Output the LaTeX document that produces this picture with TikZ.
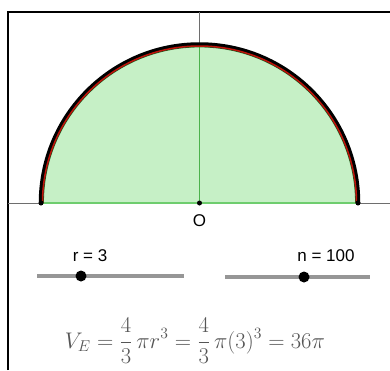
\documentclass[tikz,border=0pt]{standalone}
\usepackage{fontspec}
\newfontfamily\labfont{Liberation Sans}
\definecolor{fillg}{RGB}{198,240,198}
\definecolor{lineg}{RGB}{110,205,110}
\definecolor{slidergray}{RGB}{150,150,150}
\definecolor{axisgray}{RGB}{110,110,110}
\definecolor{formulagray}{RGB}{85,85,85}
\definecolor{arcred}{RGB}{190,20,10}
\definecolor{arcgreen}{RGB}{40,110,40}
\tikzset{
  axisline/.style={axisgray, line width=0.8pt},
  sliderline/.style={slidergray, line width=3.5pt},
  knob/.style={circle, fill=black, inner sep=0pt, minimum size=11pt},
  enddot/.style={circle, fill=black, inner sep=0pt, minimum size=5pt},
  lab/.style={font=\labfont\fontsize{17}{20}\selectfont, inner sep=0pt},
}
\begin{document}
\begin{tikzpicture}[x=1pt, y=-1pt]
\useasboundingbox (0,0) rectangle (390,370);
% frame
\draw[black, line width=2pt] (8,370) -- (8,12) -- (390,12);
% axes
\draw[axisline] (8,203) -- (390,203);
\draw[axisline] (199.5,12) -- (199.5,203);
% semicircle
\fill[fillg] (41,203) arc[start angle=180, end angle=360, radius=158.5] -- cycle;
\draw[axisline, gray!60!green] (199.5,46) -- (199.5,203);
\draw[lineg, line width=1.5pt] (41,203) -- (358,203);
\draw[arcgreen, line width=0.8pt] (43.5,203) arc[start angle=180, end angle=360, radius=156];
\draw[black, line width=4.5pt] (41,203) arc[start angle=180, end angle=360, radius=158.5];
\draw[arcred, line width=1.5pt] (42.5,203) arc[start angle=180, end angle=360, radius=157];
\node[enddot] (A) at (41,203) {};
\node[enddot] (B) at (358,203) {};
\node[enddot] (O) at (199.5,203) {};
\node[lab] (Olab) at (199.5,221) {O};
% sliders
\draw[sliderline] (37,276) -- (184,276);
\node[knob] (rk) at (81,276) {};
\node[lab] (rlab) at (90,256) {r = 3};
\draw[sliderline] (225,277) -- (370,277);
\node[knob] (nk) at (304,277) {};
\node[lab] (nlab) at (326,256) {n = 100};
% formula
\node[text=formulagray, font=\fontsize{22}{26}\selectfont, inner sep=0pt, scale=1.09] (F) at (195,341)
  {$\displaystyle V_E=\frac{4}{3}\,\pi r^3=\frac{4}{3}\,\pi(3)^3=36\pi$};
\end{tikzpicture}
\end{document}
